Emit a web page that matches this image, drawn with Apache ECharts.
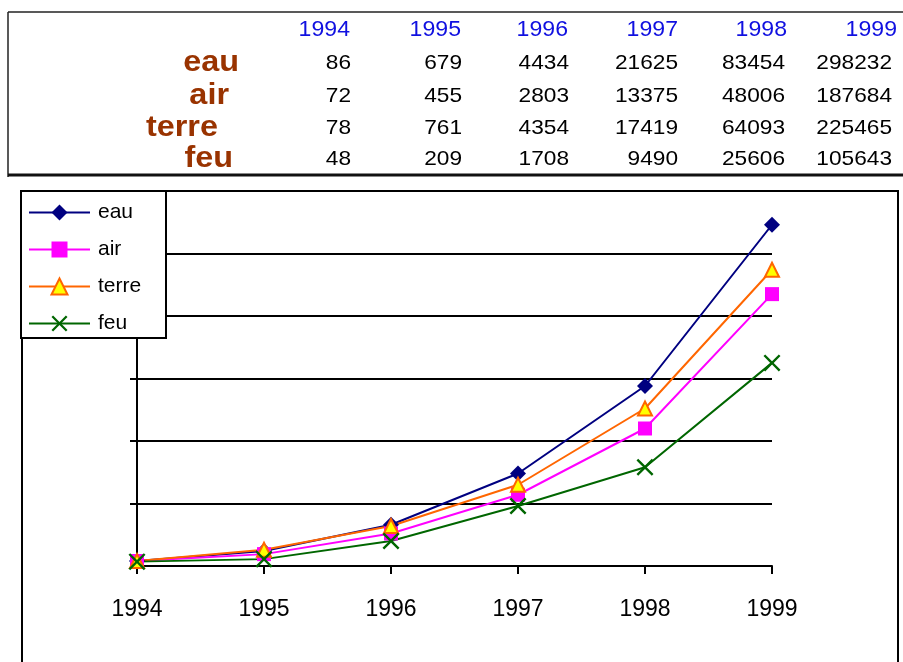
<!DOCTYPE html>
<html>
<head>
<meta charset="utf-8">
<title>eau air terre feu</title>
<script src="https://cdn.jsdelivr.net/npm/echarts@6/dist/echarts.min.js"></script>
<style>
html, body { margin:0; padding:0; background:#fff; }
#main { width:903px; height:662px; }
</style>
</head>
<body>
<div id="main"></div>
<script>
// years, used for the table header and the x axis
var years = ['1994', '1995', '1996', '1997', '1998', '1999'];
var names = ['eau', 'air', 'terre', 'feu'];

// values printed in the table
var tabEau = [86, 679, 4434, 21625, 83454, 298232];
var tabAir = [72, 455, 2803, 13375, 48006, 187684];
var tabTerre = [78, 761, 4354, 17419, 64093, 225465];
var tabFeu = [48, 209, 1708, 9490, 25606, 105643];

// values as plotted (one grid step = 100)
var plotEau = [8, 24, 66, 148, 288, 546];
var plotAir = [8, 19, 52, 114, 220, 435];
var plotTerre = [8, 26, 64, 130, 252, 474];
var plotFeu = [7, 11, 40, 96, 158, 325];

var FONT = 'Arial, "Liberation Sans", sans-serif';

//builds the table above the chart as graphic elements
function buildTable() {
	var els = [];
	var hdrX = [350, 461, 568, 678, 787, 897];
	var numX = [351, 462, 569, 678, 785, 892];
	var rowY = [63, 96, 128, 159];
	var labX = [239, 229, 218, 233];
	var rows = [tabEau, tabAir, tabTerre, tabFeu];

	// frame lines
	els.push({type: 'line', shape: {x1: 8, y1: 12, x2: 903, y2: 12}, style: {stroke: '#222', lineWidth: 1.5}});
	els.push({type: 'line', shape: {x1: 8, y1: 12, x2: 8, y2: 177}, style: {stroke: '#222', lineWidth: 1.5}});
	els.push({type: 'line', shape: {x1: 8, y1: 175, x2: 903, y2: 175}, style: {stroke: '#111', lineWidth: 3}});

	for (var j = 0; j < years.length; j++) {
		els.push({type: 'text', x: hdrX[j], y: 30, scaleX: 1.05,
			style: {text: years[j], x: 0, y: 0, align: 'right', verticalAlign: 'middle',
				font: '22px ' + FONT, fill: '#1010e0'}});
	}
	for (var i = 0; i < rows.length; i++) {
		els.push({type: 'text', x: labX[i], y: rowY[i], scaleX: 1.08,
			style: {text: names[i], x: 0, y: 0, align: 'right', verticalAlign: 'middle',
				font: 'bold 30px ' + FONT, fill: '#993300'}});
		for (var k = 0; k < rows[i].length; k++) {
			els.push({type: 'text', x: numX[k], y: rowY[i], scaleX: 1.08,
				style: {text: String(rows[i][k]), x: 0, y: 0, align: 'right', verticalAlign: 'middle',
					font: '21px ' + FONT, fill: '#000'}});
		}
	}
	return els;
}

var chartGraphics = [
	// outer border of the chart area
	{type: 'rect', z: 1, shape: {x: 22, y: 191, width: 876, height: 540},
		style: {fill: 'none', stroke: '#000', lineWidth: 2}},
	// legend box, sits over the plot
	{type: 'rect', z: 5, shape: {x: 21, y: 191, width: 145, height: 147},
		style: {fill: '#fff', stroke: '#000', lineWidth: 2}}
];

var crossPath = 'path://M0,1L1,0L5,4L9,0L10,1L6,5L10,9L9,10L5,6L1,10L0,9L4,5Z';

var myChart = echarts.init(document.getElementById('main'));
var option = {
	animation: false,
	backgroundColor: '#fff',
	textStyle: {fontFamily: FONT},
	graphic: buildTable().concat(chartGraphics),
	legend: {
		z: 6,
		orient: 'vertical',
		left: 28,
		top: 202,
		padding: 0,
		itemWidth: 61,
		itemHeight: 20,
		itemGap: 16,
		data: names,
		lineStyle: {width: 2},
		textStyle: {fontSize: 21, color: '#000', fontFamily: FONT, padding: [0, 0, 0, 3]}
	},
	grid: {left: 137, right: 131, top: 191, bottom: 96},
	xAxis: {
		type: 'category',
		data: years,
		boundaryGap: false,
		axisLine: {lineStyle: {color: '#000', width: 2}},
		axisTick: {length: 8, lineStyle: {color: '#000', width: 2}},
		axisLabel: {fontSize: 23, color: '#000', margin: 32, fontFamily: FONT},
		splitLine: {show: false}
	},
	yAxis: {
		type: 'value',
		min: 0,
		max: 600,
		interval: 100,
		axisLabel: {show: false},
		axisLine: {show: true, lineStyle: {color: '#000', width: 2}},
		axisTick: {show: true, length: 7, lineStyle: {color: '#000', width: 2}},
		splitLine: {lineStyle: {color: '#000', width: 2}}
	},
	series: [
		{name: 'eau', type: 'line', data: plotEau, symbol: 'diamond', symbolSize: 16,
			lineStyle: {color: '#000080', width: 2}, itemStyle: {color: '#000080'}},
		{name: 'air', type: 'line', data: plotAir, symbol: 'rect', symbolSize: 14,
			lineStyle: {color: '#ff00ff', width: 2}, itemStyle: {color: '#ff00ff'}},
		{name: 'terre', type: 'line', data: plotTerre, symbol: 'triangle', symbolSize: 14,
			lineStyle: {color: '#ff6600', width: 2},
			itemStyle: {color: '#ffff00', borderColor: '#ff6600', borderWidth: 2}},
		{name: 'feu', type: 'line', data: plotFeu, symbol: crossPath, symbolSize: 17,
			lineStyle: {color: '#006600', width: 2}, itemStyle: {color: '#006600'}}
	]
};
myChart.setOption(option);
</script>
</body>
</html>
